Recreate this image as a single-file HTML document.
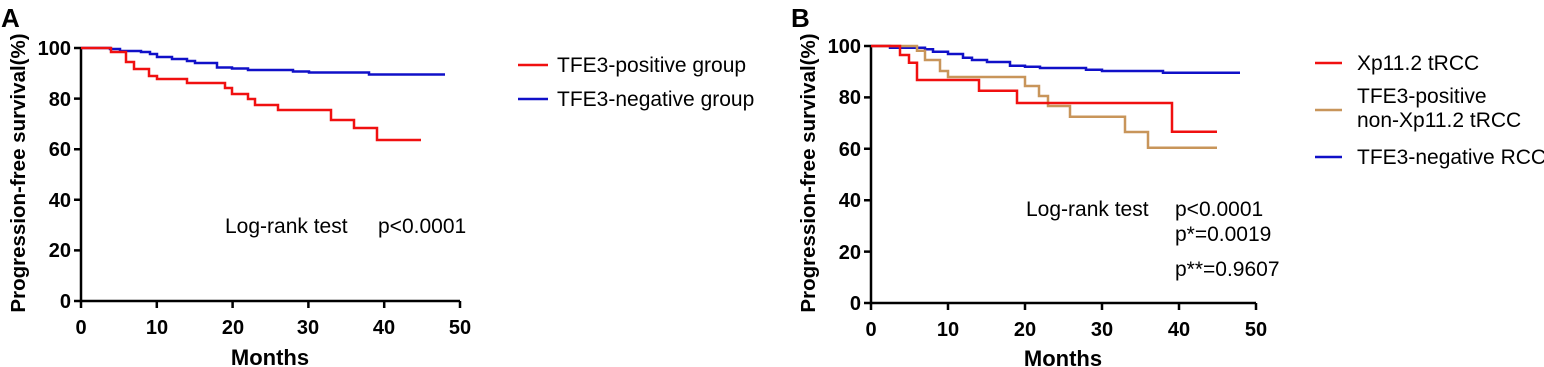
<!DOCTYPE html>
<html><head><style>
body{margin:0;background:#fff;}
svg{display:block;font-family:"Liberation Sans",Arial,sans-serif;}
.t{font-size:20px;font-weight:bold;fill:#000;}
.l{font-size:21px;fill:#000;}
</style></head><body>
<svg width="1544" height="367" viewBox="0 0 1544 367">
<!-- Panel A -->
<text x="1" y="27" font-size="26" font-weight="bold">A</text>
<text transform="translate(25,173) rotate(-90)" text-anchor="middle" font-size="20.5" font-weight="bold">Progression-free survival(%)</text>
<g stroke="#000" stroke-width="2.5" fill="none">
<path d="M81,48V301H460"/>
<path d="M74,48H81M74,98.6H81M74,149.2H81M74,199.8H81M74,250.4H81M74,301H81"/>
<path d="M81,301V308M156.8,301V308M232.6,301V308M308.4,301V308M384.2,301V308M460,301V308"/>
</g>
<g class="t" text-anchor="end">
<text x="71" y="55">100</text><text x="71" y="106">80</text><text x="71" y="156">60</text><text x="71" y="207">40</text><text x="71" y="257">20</text><text x="71" y="308">0</text>
</g>
<g class="t" text-anchor="middle">
<text x="81" y="334">0</text><text x="157" y="334">10</text><text x="233" y="334">20</text><text x="308" y="334">30</text><text x="384" y="334">40</text><text x="460" y="334">50</text>
</g>
<text x="270" y="365" text-anchor="middle" font-size="22" font-weight="bold">Months</text>
<path fill="none" stroke="#1010c8" stroke-width="2.5" d="M81,48H110V49H120V51H141V52H150V54H157V57H172V59H187V61H195V63H217V67.5H232V68.5H248V70H293V71.5H309V72.5H369V74.5H445"/>
<path fill="none" stroke="#f01010" stroke-width="2.5" d="M81,48H111V52H126V62H134V69H149V76H157V79H187V83H225V88H232V94H248V99H255V105H278V110H331V120H354V128H377V140H421"/>
<text x="225" y="233" class="l">Log-rank test</text>
<text x="378" y="233" class="l">p&lt;0.0001</text>
<line x1="518" y1="65" x2="548" y2="65" stroke="#f01010" stroke-width="2.5"/>
<text x="557" y="72" class="l">TFE3-positive group</text>
<line x1="518" y1="99" x2="548" y2="99" stroke="#1010c8" stroke-width="2.5"/>
<text x="557" y="106" class="l">TFE3-negative group</text>

<!-- Panel B -->
<text x="791" y="27" font-size="26" font-weight="bold">B</text>
<text transform="translate(815,173) rotate(-90)" text-anchor="middle" font-size="20.5" font-weight="bold">Progression-free survival(%)</text>
<g stroke="#000" stroke-width="2.5" fill="none">
<path d="M871,46V303H1256"/>
<path d="M864,46H871M864,97.4H871M864,148.8H871M864,200.2H871M864,251.6H871M864,303H871"/>
<path d="M871,303V310M948,303V310M1025,303V310M1102,303V310M1179,303V310M1256,303V310"/>
</g>
<g class="t" text-anchor="end">
<text x="861" y="53">100</text><text x="861" y="104">80</text><text x="861" y="156">60</text><text x="861" y="207">40</text><text x="861" y="259">20</text><text x="861" y="310">0</text>
</g>
<g class="t" text-anchor="middle">
<text x="871" y="336">0</text><text x="948" y="336">10</text><text x="1025" y="336">20</text><text x="1102" y="336">30</text><text x="1179" y="336">40</text><text x="1256" y="336">50</text>
</g>
<text x="1063" y="366" text-anchor="middle" font-size="22" font-weight="bold">Months</text>
<path fill="none" stroke="#1010c8" stroke-width="2.5" d="M871,46H890V47.7H925V49.3H933V51.7H948V54H963V57.7H972V60H987V62H1010V65.7H1025V66.7H1040V68H1086V69.7H1102V71H1163V72.7H1240"/>
<path fill="none" stroke="#c8955a" stroke-width="2.5" d="M871,46H917V50.7H925V60H940V71H948V77H1025V86H1039V96H1048V106H1070V116.7H1125V132H1148V147.7H1217"/>
<path fill="none" stroke="#f01010" stroke-width="2.5" d="M871,46H900V55H909V62.7H917V80H979V90.7H1017V103H1172V131.7H1217"/>
<text x="1026" y="216" class="l">Log-rank test</text>
<text x="1175" y="216" class="l">p&lt;0.0001</text>
<text x="1175" y="241" class="l">p*=0.0019</text>
<text x="1175" y="276" class="l">p**=0.9607</text>
<line x1="1315" y1="63" x2="1342" y2="63" stroke="#f01010" stroke-width="2.5"/>
<text x="1357" y="70" class="l">Xp11.2 tRCC</text>
<line x1="1315" y1="110" x2="1342" y2="110" stroke="#c8955a" stroke-width="2.5"/>
<text x="1357" y="103" class="l">TFE3-positive</text>
<text x="1357" y="127" class="l">non-Xp11.2 tRCC</text>
<line x1="1315" y1="157" x2="1342" y2="157" stroke="#1010c8" stroke-width="2.5"/>
<text x="1357" y="164" class="l">TFE3-negative RCC</text>
</svg>
</body></html>
